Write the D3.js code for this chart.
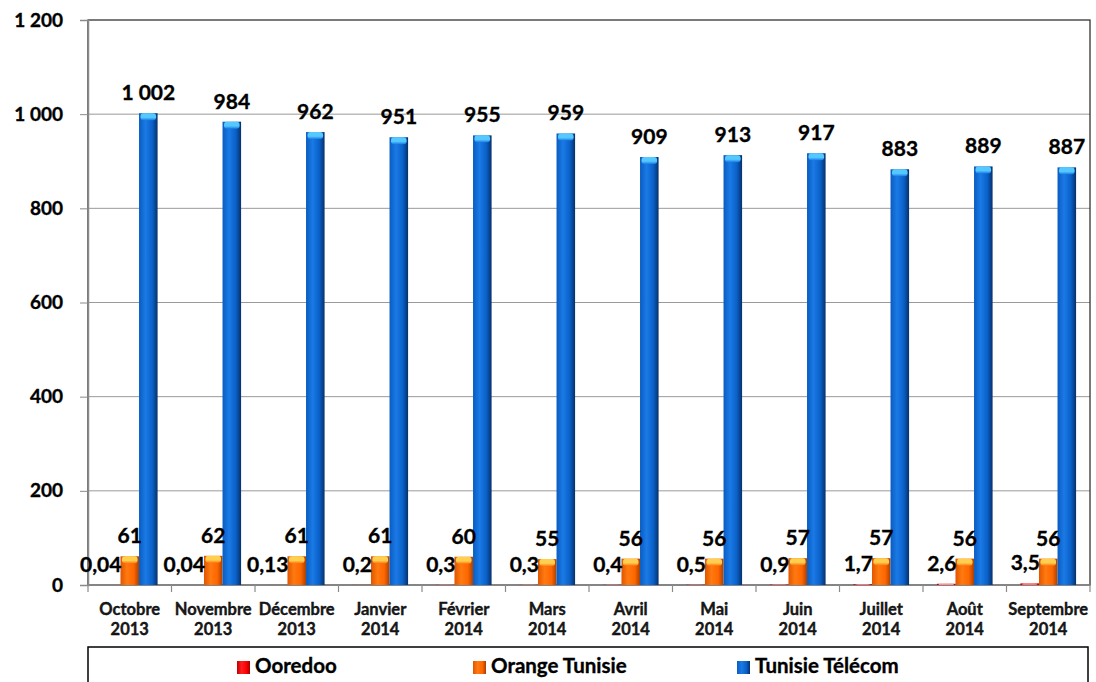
<!DOCTYPE html>
<html>
<head>
<meta charset="utf-8">
<script src="https://cdn.jsdelivr.net/npm/d3@7"></script>
<style>
  body { margin: 0; background: #fff; }
  svg { display: block; font-family: Lato, "Open Sans", sans-serif; font-weight: bold; }
  text { stroke: #000; stroke-width: 0.35px; }
</style>
</head>
<body>
<svg id="chart" width="1096" height="682"></svg>
<script>
// chart data
const months = ["Octobre", "Novembre", "Décembre", "Janvier", "Février", "Mars", "Avril", "Mai", "Juin", "Juillet", "Août", "Septembre"];
const years = ["2013", "2013", "2013", "2014", "2014", "2014", "2014", "2014", "2014", "2014", "2014", "2014"];
const seriesNames = ["Ooredoo", "Orange Tunisie", "Tunisie Télécom"];
const ooredoo = [0.04, 0.04, 0.13, 0.2, 0.3, 0.3, 0.4, 0.5, 0.9, 1.7, 2.6, 3.5];
const orange = [61, 62, 61, 61, 60, 55, 56, 56, 57, 57, 56, 56];
const tunisieTelecom = [1002, 984, 962, 951, 955, 959, 909, 913, 917, 883, 889, 887];
const yTicks = [0, 200, 400, 600, 800, 1000, 1200];

const allSeries = [ooredoo, orange, tunisieTelecom];
const colors = {
  "Ooredoo": { stops: ["#c00000", "#ff2020", "#ff0000", "#a00000"], cap: "#ff9090" },
  "Orange Tunisie": { stops: ["#e05500", "#ff7a10", "#ff6600", "#a84000"], cap: "#ffd050" },
  "Tunisie Télécom": { stops: ["#0a5cc0", "#1a7ae6", "#0a60c8", "#06306a"], cap: "#55c8ff" }
};

const frFormat = d3.formatLocale({ decimal: ",", thousands: "\u00a0", grouping: [3], currency: ["", ""] });
const fmtInt = frFormat.format(",d");
function fmtVal(v) {
  return Number.isInteger(v) ? fmtInt(v) : String(v).replace(".", ",");
}

const svg = d3.select("#chart");
const plotL = 88, plotR = 1090, plotT = 20, plotB = 585;

const x = d3.scaleBand().domain(d3.range(months.length)).range([plotL, plotR]).padding(0);
const xSub = d3.scaleBand().domain(seriesNames).range([0, x.bandwidth()]).paddingInner(0).paddingOuter(0.75);
const y = d3.scaleLinear().domain([0, 1200]).range([plotB, plotT]);

// gradients
const defs = svg.append("defs");
seriesNames.forEach((name, i) => {
  const g = defs.append("linearGradient").attr("id", "grad" + i).attr("x1", "0%").attr("x2", "100%");
  const st = colors[name].stops;
  [0, 0.35, 0.72, 1].forEach((o, k) => g.append("stop").attr("offset", o).attr("stop-color", st[k]));
  const c = defs.append("linearGradient").attr("id", "cap" + i).attr("x1", "0%").attr("x2", "0%").attr("y1", "0%").attr("y2", "100%");
  c.append("stop").attr("offset", 0).attr("stop-color", colors[name].cap);
  c.append("stop").attr("offset", 0.6).attr("stop-color", colors[name].cap);
  c.append("stop").attr("offset", 1).attr("stop-color", st[1]);
});

// gridlines
svg.append("g").selectAll("line").data(yTicks.filter(d => d > 0 && d < 1200)).join("line")
  .attr("x1", plotL).attr("x2", plotR)
  .attr("y1", d => y(d)).attr("y2", d => y(d))
  .attr("stroke", "#9a9a9a").attr("stroke-width", 1);

// plot border
svg.append("rect").attr("x", plotL).attr("y", plotT).attr("width", plotR - plotL).attr("height", plotB - plotT)
  .attr("fill", "none").attr("stroke", "#222").attr("stroke-width", 1.2);

// y axis
const yAxis = svg.append("g").attr("transform", `translate(${plotL},0)`)
  .call(d3.axisLeft(y).tickValues(yTicks).tickSize(8).tickPadding(17).tickFormat(fmtInt));
yAxis.select(".domain").attr("stroke", "#8a8a8a").attr("stroke-width", 1.5);
yAxis.selectAll(".tick line").attr("stroke", "#8a8a8a");
yAxis.selectAll("text").attr("font-size", 19).attr("font-weight", "bold").attr("fill", "#000")
  .attr("font-family", "Lato, sans-serif");

// x axis line and ticks at category boundaries
svg.append("line").attr("x1", plotL).attr("x2", plotR).attr("y1", plotB).attr("y2", plotB)
  .attr("stroke", "#8a8a8a").attr("stroke-width", 1.5);
svg.append("g").selectAll("line").data(d3.range(months.length + 1)).join("line")
  .attr("x1", d => plotL + d * x.step()).attr("x2", d => plotL + d * x.step())
  .attr("y1", plotB).attr("y2", plotB + 7)
  .attr("stroke", "#8a8a8a").attr("stroke-width", 1.2);

// category labels
const catLabels = svg.append("g").selectAll("text").data(months).join("text")
  .attr("x", (d, i) => x(i) + x.bandwidth() / 2)
  .attr("text-anchor", "middle").attr("font-size", 16.5).attr("fill", "#1a1a1a");
catLabels.append("tspan").attr("x", (d, i) => x(i) + x.bandwidth() / 2).attr("y", 615).text(d => d);
catLabels.append("tspan").attr("x", (d, i) => x(i) + x.bandwidth() / 2).attr("y", 635).text((d, i) => years[i]);

// bars
seriesNames.forEach((name, si) => {
  const vals = allSeries[si];
  const g = svg.append("g");
  const bw = xSub.bandwidth();
  g.selectAll("rect.bar").data(vals).join("rect").attr("class", "bar")
    .attr("x", (d, i) => x(i) + xSub(name))
    .attr("y", d => y(d))
    .attr("width", bw)
    .attr("height", d => plotB - y(d))
    .attr("fill", `url(#grad${si})`);
  g.selectAll("rect.cap").data(vals).join("rect").attr("class", "cap")
    .attr("x", (d, i) => x(i) + xSub(name) + 1.5)
    .attr("y", d => y(d))
    .attr("width", bw - 3)
    .attr("height", d => Math.min(7, plotB - y(d)))
    .attr("rx", 3)
    .attr("fill", `url(#cap${si})`);
});

// value labels
const labels = svg.append("g").attr("font-size", 21).attr("fill", "#000");
seriesNames.forEach((name, si) => {
  const vals = allSeries[si];
  labels.selectAll("text.s" + si).data(vals).join("text").attr("class", "s" + si)
    .attr("x", (d, i) => si === 0 ? x(i) + xSub(seriesNames[1]) + 1 : x(i) + xSub(name) + xSub.bandwidth() / 2)
    .attr("y", d => y(d) - 13)
    .attr("text-anchor", si === 0 ? "end" : "middle")
    .text(d => fmtVal(d));
});

// legend
const legend = svg.append("g");
legend.append("rect").attr("x", plotL).attr("y", 647).attr("width", 1000).attr("height", 60)
  .attr("fill", "#fff").attr("stroke", "#000").attr("stroke-width", 1.5);
const legendX = [237, 473, 737];
seriesNames.forEach((name, si) => {
  legend.append("rect").attr("x", legendX[si]).attr("y", 661).attr("width", 13).attr("height", 13)
    .attr("fill", `url(#grad${si})`);
  legend.append("text").attr("x", legendX[si] + 18).attr("y", 673)
    .attr("font-size", 20.5).attr("fill", "#000").text(name);
});
</script>
</body>
</html>
